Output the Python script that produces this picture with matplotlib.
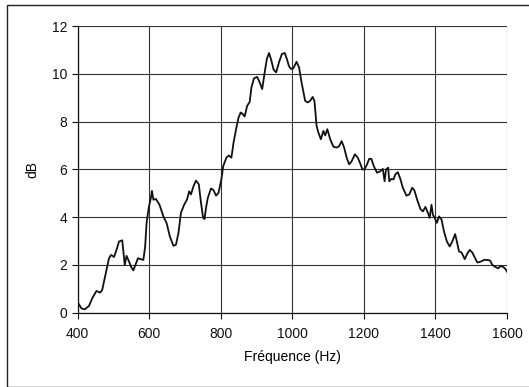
import matplotlib
matplotlib.use("Agg")
import matplotlib.pyplot as plt
from matplotlib.patches import Rectangle

freq = [401, 411, 420, 432, 441, 453, 463, 469, 479, 488, 494, 502, 509, 516, 525,
        532, 537, 544, 550, 556, 562, 569, 577, 584, 589, 593, 599, 605, 608, 612,
        619, 629, 640, 649, 658, 668, 675, 682, 689, 698, 706, 712, 717, 724, 731,
        739, 745, 751, 755, 759, 764, 773, 780, 787, 794, 802, 807, 816, 823, 830,
        836, 844, 850, 856, 862, 867, 874, 881, 886, 893, 902, 909, 916, 923, 929,
        935, 941, 948, 955, 963, 971, 979, 985, 991, 997, 1003, 1012, 1019, 1026,
        1036, 1043, 1050, 1057, 1062, 1068, 1073, 1080, 1087, 1092, 1098, 1106,
        1115, 1124, 1131, 1138, 1145, 1152, 1159, 1166, 1175, 1183, 1189, 1196,
        1202, 1209, 1215, 1221, 1228, 1237, 1246, 1253, 1258, 1262, 1268, 1271,
        1277, 1283, 1288, 1295, 1302, 1309, 1319, 1327, 1335, 1341, 1349, 1358,
        1365, 1372, 1379, 1384, 1389, 1393, 1398, 1404, 1410, 1417, 1424, 1432,
        1440, 1447, 1455, 1460, 1466, 1473, 1482, 1489, 1496, 1503, 1511, 1517,
        1527, 1536, 1545, 1553, 1559, 1568, 1576, 1582, 1590, 1596, 1600]
db = [0.42, 0.18, 0.14, 0.28, 0.60, 0.91, 0.84, 0.95, 1.65, 2.28, 2.42, 2.33, 2.63, 2.98, 3.03,
      2.00, 2.38, 2.14, 1.91, 1.77, 2.00, 2.28, 2.24, 2.21, 2.77, 3.76, 4.39, 4.80, 5.10, 4.73,
      4.76, 4.52, 4.03, 3.75, 3.19, 2.80, 2.84, 3.33, 4.18, 4.52, 4.74, 5.08, 4.95, 5.29, 5.53,
      5.37, 4.60, 3.97, 3.92, 4.39, 4.80, 5.20, 5.13, 4.90, 5.02, 5.58, 6.13, 6.49, 6.58, 6.49,
      7.12, 7.75, 8.17, 8.38, 8.31, 8.21, 8.66, 8.82, 9.43, 9.81, 9.87, 9.64, 9.36, 10.06, 10.62,
      10.87, 10.59, 10.17, 10.06, 10.48, 10.83, 10.87, 10.62, 10.31, 10.20, 10.23, 10.50, 10.27, 9.64,
      8.87, 8.80, 8.87, 9.03, 8.87, 7.82, 7.54, 7.26, 7.61, 7.42, 7.68, 7.26,
      6.95, 6.91, 6.97, 7.18, 6.91, 6.49, 6.21, 6.34, 6.63, 6.49, 6.28, 6.00,
      6.00, 6.21, 6.44, 6.44, 6.13, 5.86, 5.92, 6.02, 5.50, 6.00, 6.07, 5.50,
      5.60, 5.58, 5.79, 5.88, 5.60, 5.23, 4.90, 4.95, 5.23, 5.13, 4.73, 4.34,
      4.24, 4.43, 4.18, 3.97, 4.52, 4.10, 3.97, 3.76, 4.03, 3.90, 3.40, 2.98,
      2.77, 2.98, 3.29, 2.98, 2.56, 2.52, 2.24, 2.47, 2.63, 2.52, 2.28, 2.10,
      2.14, 2.21, 2.21, 2.18, 2.00, 1.91, 1.86, 1.96, 1.91, 1.82, 1.72]

xticks = [400, 600, 800, 1000, 1200, 1400, 1600]
yticks = [0, 2, 4, 6, 8, 10, 12]
xlabel = "Fréquence (Hz)"
ylabel = "dB"

plt.rcParams['font.family'] = ['Liberation Sans', 'DejaVu Sans']

W, H = 529, 387
fig = plt.figure(figsize=(W / 100, H / 100), dpi=100)
fig.patches.append(Rectangle((7 / W, 0.5 / H), (W + 10) / W, (H - 5.5) / H,
                             transform=fig.transFigure, fill=False,
                             edgecolor='#222222', linewidth=1.0))

ax = fig.add_axes([77.5 / W, (H - 312.7) / H, 429.5 / W, 286.7 / H])
ax.plot(freq, db, color='#111111', linewidth=1.3)
ax.set_xlim(400, 1600)
ax.set_ylim(0, 12)
ax.set_xticks(xticks)
ax.set_yticks(yticks)
ax.grid(True, color='#333333', linewidth=0.8)
ax.set_axisbelow(True)
for s in ['top', 'right']:
    ax.spines[s].set_visible(False)
ax.spines['left'].set_color('#111111')
ax.spines['bottom'].set_color('#111111')
ax.spines['left'].set_linewidth(0.9)
ax.spines['bottom'].set_linewidth(0.9)
ax.tick_params(axis='both', direction='out', length=4, width=0.8,
               labelsize=10, colors='#111111')
ax.tick_params(axis='x', pad=6)
ax.set_xlabel(xlabel, fontsize=10, labelpad=7)
ax.set_ylabel(ylabel, fontsize=10, labelpad=9)

fig.savefig("out.png", dpi=100)
